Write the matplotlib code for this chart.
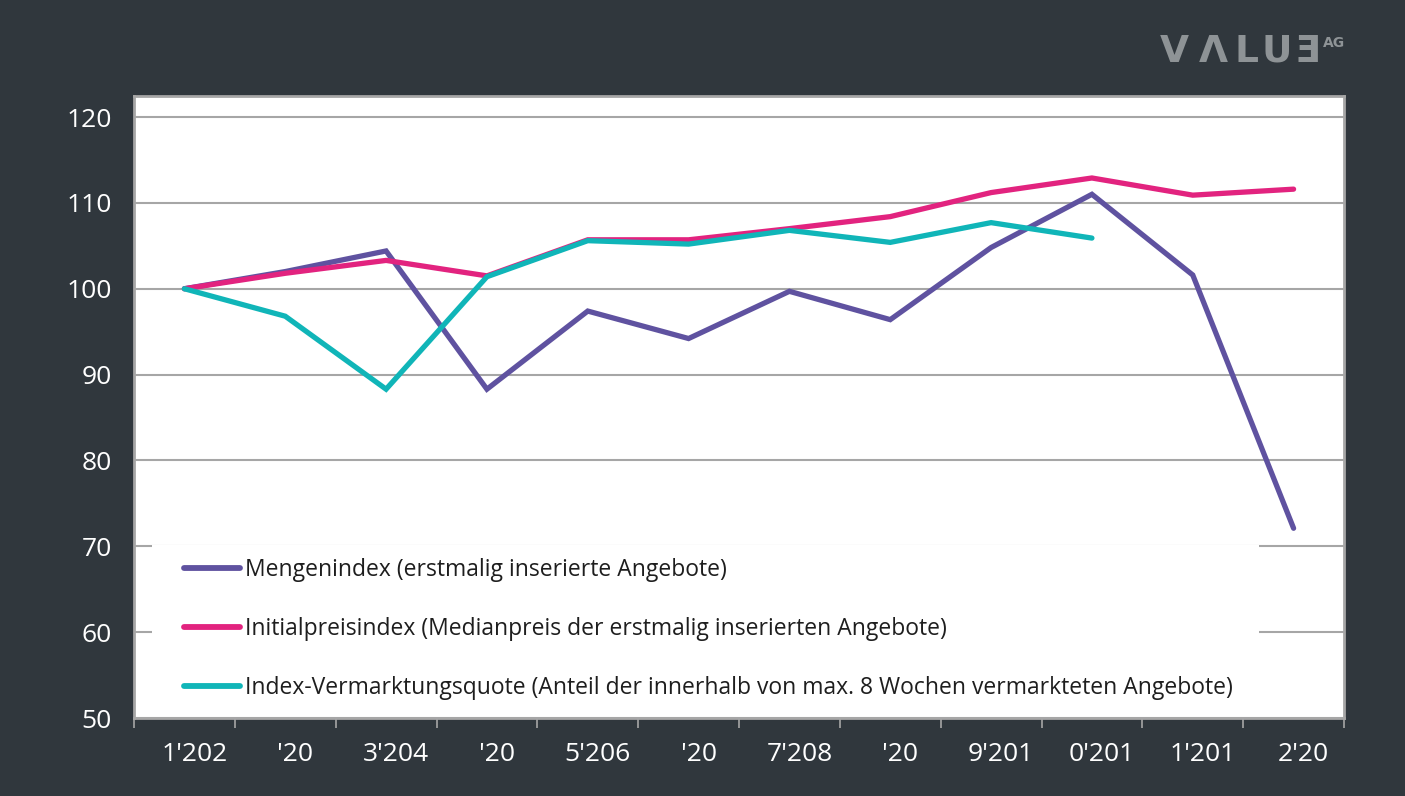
import matplotlib
matplotlib.use("Agg")
import matplotlib.pyplot as plt
from matplotlib.patches import Rectangle
from matplotlib.transforms import ScaledTranslation
import numpy as np

plt.rcParams['font.family'] = ['Open Sans', 'DejaVu Sans']

quarters = ["1'202", "'20", "3'204", "'20", "5'206", "'20",
            "7'208", "'20", "9'201", "0'201", "1'201", "2'20"]
mengen = [100, 102.0, 104.4, 88.3, 97.4, 94.2, 99.7, 96.4, 104.8, 111.0, 101.6, 72.1]
initialpreis = [100, 101.8, 103.3, 101.5, 105.7, 105.7, 107.0, 108.4, 111.2, 112.9, 110.9, 111.6]
vermarktung = [100, 96.8, 88.3, 101.4, 105.6, 105.2, 106.8, 105.4, 107.7, 105.9, np.nan, np.nan]

labels = ["Mengenindex (erstmalig inserierte Angebote)",
          "Initialpreisindex (Medianpreis der erstmalig inserierten Angebote)",
          "Index-Vermarktungsquote (Anteil der innerhalb von max. 8 Wochen vermarkteten Angebote)"]
colors = ["#5f52a0", "#e2237f", "#10b5b8"]

bg = "#30373d"
grid_col = "#a6a6a6"

fig = plt.figure(figsize=(14.05, 7.96), dpi=100, facecolor=bg)
ax = fig.add_axes([134/1405, 78/796, 1210/1405, 622/796])
ax.set_facecolor("white")

x = np.arange(len(quarters))
for series, lab, col in zip([mengen, initialpreis, vermarktung], labels, colors):
    ax.plot(x, series, color=col, lw=3.8, label=lab, solid_capstyle='round',
            solid_joinstyle='miter', zorder=3)

ax.set_xlim(-0.5, len(quarters) - 0.5)
ax.set_ylim(50, 122.45)
ax.set_yticks(np.arange(50, 121, 10))
ax.yaxis.grid(True, color=grid_col, lw=1.5)
ax.set_axisbelow(True)

ax.set_xticks(np.arange(-0.5, len(quarters), 1))
ax.set_xticklabels([])
ax.set_xticks(x, minor=True)
ax.set_xticklabels(quarters, minor=True)
ax.tick_params(axis='x', which='major', length=7, width=1.2, color=grid_col, direction='out')
ax.tick_params(axis='x', which='minor', length=0, pad=17, labelsize=19, labelcolor='white')
ax.tick_params(axis='y', length=0, pad=16, labelsize=19, labelcolor='white')
# the category labels sit a little right of the category centre
shift = ScaledTranslation(10/100, 0, fig.dpi_scale_trans)
for lbl in ax.get_xticklabels(minor=True):
    lbl.set_transform(lbl.get_transform() + shift)

for s in ax.spines.values():
    s.set_color(grid_col)
    s.set_linewidth(2)

# white box behind the legend hides the lower gridlines
ax.add_patch(Rectangle((152/1405, 80/796), (1259 - 152)/1405, (796 - 80 - 545)/796,
                       transform=fig.transFigure, facecolor='white', edgecolor='none', zorder=1))

leg = ax.legend(loc='upper left', bbox_to_anchor=(184/1405, 1 - 558/796),
                bbox_transform=fig.transFigure, frameon=False,
                fontsize=16.5, handlelength=2.45, handletextpad=0.2,
                labelspacing=1.52, borderpad=0, borderaxespad=0)
for t in leg.get_texts():
    t.set_color('#1e1e1e')
for h in leg.get_lines():
    h.set_linewidth(4.2)

# logo
logo_col = "#8e9396"
for ch, px in zip("VΛLUƎ", [1174, 1213, 1247, 1277, 1307]):
    fig.text(px/1405, 1 - 62/796, ch, color=logo_col, fontsize=27, weight='bold',
             family='DejaVu Sans', ha='center', va='baseline')
fig.text(1323/1405, 1 - 47/796, "AG", color=logo_col, fontsize=10,
         family='DejaVu Sans', ha='left', va='baseline', weight='bold')

fig.savefig("out.png", dpi=100, facecolor=bg)
